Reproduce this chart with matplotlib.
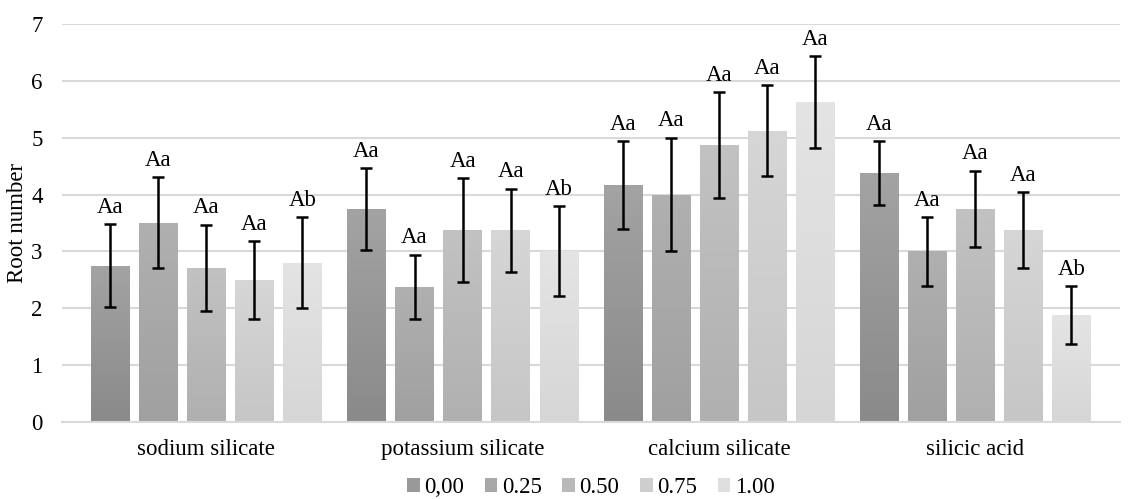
import numpy as np
import matplotlib.pyplot as plt
from matplotlib.colors import LinearSegmentedColormap
from matplotlib.patches import Patch

plt.rcParams['font.family'] = 'serif'
plt.rcParams['font.serif'] = ['Liberation Serif', 'DejaVu Serif']

# Data
GROUPS = ["sodium silicate", "potassium silicate", "calcium silicate", "silicic acid"]
DOSES = ["0,00", "0.25", "0.50", "0.75", "1.00"]
MEANS = [
    [2.75, 3.50, 2.71, 2.50, 2.80],
    [3.75, 2.375, 3.375, 3.375, 3.00],
    [4.17, 4.00, 4.875, 5.125, 5.625],
    [4.375, 3.00, 3.75, 3.375, 1.875],
]
ERRS = [
    [0.73, 0.80, 0.76, 0.68, 0.80],
    [0.72, 0.57, 0.92, 0.73, 0.79],
    [0.77, 1.00, 0.93, 0.80, 0.81],
    [0.56, 0.60, 0.67, 0.67, 0.51],
]
LETTERS = [
    ["Aa", "Aa", "Aa", "Aa", "Ab"],
    ["Aa", "Aa", "Aa", "Aa", "Ab"],
    ["Aa", "Aa", "Aa", "Aa", "Aa"],
    ["Aa", "Aa", "Aa", "Aa", "Ab"],
]

# (bottom colour, top colour) per dose
GRADIENTS = [
    ("#8a8a8a", "#a3a3a3"),
    ("#a0a0a0", "#b0b0b0"),
    ("#b0b0b0", "#c2c2c2"),
    ("#c6c6c6", "#d6d6d6"),
    ("#d6d6d6", "#e4e4e4"),
]
LEGEND_COLS = ["#999999", "#a8a8a8", "#b9b9b9", "#cecece", "#dedede"]

PITCH = 0.1875
WIDTH = 0.15
FS = 16.5

fig = plt.figure(figsize=(11.32, 4.99), dpi=100)
ax = fig.add_axes([0.0548, 0.1543, 0.9342, 0.7977])

x = np.arange(len(GROUPS))
grad = np.linspace(1, 0, 256).reshape(-1, 1)

for j in range(len(DOSES)):
    xs = x + (j - 2) * PITCH
    vals = [MEANS[i][j] for i in range(len(GROUPS))]
    errs = [ERRS[i][j] for i in range(len(GROUPS))]
    bars = ax.bar(xs, vals, width=WIDTH, color="none", edgecolor="none", zorder=2)
    cmap = LinearSegmentedColormap.from_list("g%d" % j, GRADIENTS[j])
    for b in bars:
        x0, y0 = b.get_x(), b.get_y()
        im = ax.imshow(grad, cmap=cmap, aspect="auto", zorder=2,
                       extent=[x0, x0 + b.get_width(), y0, y0 + b.get_height()])
        im.set_clip_path(b)
    ax.errorbar(xs, vals, yerr=errs, fmt="none", ecolor="black",
                elinewidth=1.8, capsize=4, capthick=1.8, zorder=3)
    for i in range(len(GROUPS)):
        ax.annotate(LETTERS[i][j], (xs[i], vals[i] + errs[i]),
                    xytext=(0, 4.5), textcoords="offset points",
                    ha="center", va="bottom", fontsize=FS)

ax.set_xlim(-0.5625, 3.5625)
ax.set_ylim(0, 7)
ax.set_yticks(range(8))
ax.set_xticks(x)
ax.set_xticklabels(GROUPS, fontsize=FS)
ax.tick_params(axis="y", labelsize=FS, length=0, pad=14)
ax.tick_params(axis="x", length=0, pad=12)
ax.grid(axis="y", color="#d9d9d9", linewidth=1.5, zorder=0)
ax.set_axisbelow(True)
for s in ["top", "right", "left"]:
    ax.spines[s].set_visible(False)
ax.spines["bottom"].set_color("#d9d9d9")
ax.spines["bottom"].set_linewidth(1.5)
ax.set_ylabel("Root number", fontsize=FS, labelpad=2)

handles = [Patch(facecolor=c, edgecolor="none", label=d) for c, d in zip(LEGEND_COLS, DOSES)]
fig.legend(handles=handles, loc="lower center", ncol=5, frameon=False,
           fontsize=FS, handlelength=0.55, handleheight=0.55, handletextpad=0.2,
           columnspacing=0.9, bbox_to_anchor=(0.522, -0.04))

fig.savefig("out.png", dpi=100)
